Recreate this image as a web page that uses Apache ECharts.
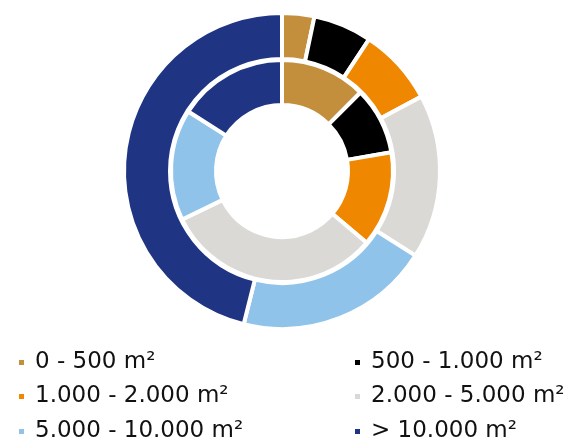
<!DOCTYPE html>
<html><head><meta charset="utf-8">
<script src="https://cdn.jsdelivr.net/npm/echarts@6/dist/echarts.min.js"></script>
<style>html,body{margin:0;padding:0;background:#fff}#c{width:570px;height:441px}</style>
</head><body><div id="c"></div>
<script>
const categories = ['0 - 500 m²','500 - 1.000 m²','1.000 - 2.000 m²','2.000 - 5.000 m²','5.000 - 10.000 m²','> 10.000 m²'];
const colors = ['#C48F3C','#000000','#F08700','#DAD9D6','#8FC3E9','#1F3583'];
const outerValues = [3.3, 6.0, 7.9, 16.8, 19.9, 46.1];
const innerValues = [12.5, 9.8, 13.9, 31.6, 16.2, 16.0];

const chart = echarts.init(document.getElementById('c'));
const mk = vals => vals.map((v,i)=>({name:categories[i], value:v, itemStyle:{color:colors[i]}}));
// legend placement: two columns, three rows
const legendCols = [17, 353];
const legendRows = [351, 385, 420];
const legends = categories.map((name,i)=>({
  data:[name], orient:'horizontal', icon:'rect', itemWidth:7, itemHeight:7,
  left:legendCols[i%2], top:legendRows[Math.floor(i/2)], padding:0, selectedMode:false,
  textStyle:{fontFamily:'DejaVu Sans', fontSize:23, lineHeight:23, color:'#111', padding:[0,0,0,5]}
}));
chart.setOption({
  animation:false,
  color:colors,
  legend:legends,
  series:[
    {type:'pie', center:[282,171], radius:[112,158], startAngle:90, clockwise:true,
     label:{show:false}, labelLine:{show:false}, silent:true,
     itemStyle:{borderColor:'#fff', borderWidth:4}, data:mk(outerValues)},
    {type:'pie', center:[282,171], radius:[66,111], startAngle:90, clockwise:true,
     label:{show:false}, labelLine:{show:false}, silent:true,
     itemStyle:{borderColor:'#fff', borderWidth:4}, data:mk(innerValues)}
  ]
});
</script></body></html>
